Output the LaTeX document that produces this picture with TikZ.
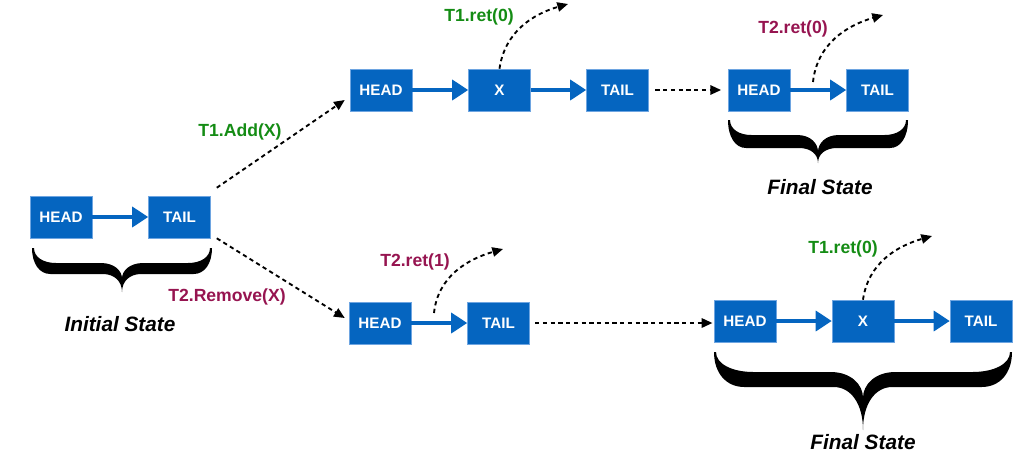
\documentclass[tikz,border=0pt]{standalone}
\usepackage{fontspec}
\setmainfont{Liberation Sans}
\usetikzlibrary{arrows.meta}
\definecolor{boxblue}{RGB}{5,101,192}
\definecolor{boxedge}{RGB}{110,165,225}
\definecolor{tgreen}{RGB}{20,140,20}
\definecolor{tmaroon}{RGB}{150,20,80}
% filled curly brace pointing down:
% #1 left x, #2 right x, #3 top y, #4 band depth, #5 band thickness, #6 tip depth
\newcommand{\fancybrace}[6]{%
  \pgfmathsetmacro\bxm{(#1+#2)/2}%
  \pgfmathsetmacro\byb{#3+#4}%
  \pgfmathsetmacro\byt{#3+#4-#5}%
  \pgfmathsetmacro\byT{#3+#6}%
  \pgfmathsetmacro\byc{\byb+0.25*(#6-#4)}%
  \pgfmathsetmacro\br{0.35*#6+3}%
  \pgfmathsetmacro\bs{0.3*#6+6}%
  \fill (#1,-#3)
    .. controls (#1,{-(#3+0.6*#4)}) and ({#1+0.4*\br},-\byb) .. ({#1+\br},-\byb)
    -- ({\bxm-\bs},-\byb)
    .. controls ({\bxm-0.4*\bs},-\byb) and (\bxm,{-(\byb+0.4*(\byT-\byb))}) .. (\bxm,-\byT)
    .. controls (\bxm,{-(\byb+0.4*(\byT-\byb))}) and ({\bxm+0.4*\bs},-\byb) .. ({\bxm+\bs},-\byb)
    -- ({#2-\br},-\byb)
    .. controls ({#2-0.4*\br},-\byb) and (#2,{-(#3+0.6*#4)}) .. (#2,-#3)
    -- ({#2-2},-#3)
    .. controls ({#2-2},{-(#3+0.6*(#4-#5))}) and ({#2-0.6*\br},-\byt) .. ({#2-1.3*\br},-\byt)
    -- ({\bxm+1.1*\bs},-\byt)
    .. controls ({\bxm+0.4*\bs},-\byt) and (\bxm,{-(\byt+0.5*(\byc-\byt))}) .. (\bxm,-\byc)
    .. controls (\bxm,{-(\byt+0.5*(\byc-\byt))}) and ({\bxm-0.4*\bs},-\byt) .. ({\bxm-1.1*\bs},-\byt)
    -- ({#1+1.3*\br},-\byt)
    .. controls ({#1+0.6*\br},-\byt) and ({#1+2},{-(#3+0.6*(#4-#5))}) .. ({#1+2},-#3)
    -- cycle;}

\begin{document}
\begin{tikzpicture}[x=0.75pt,y=0.75pt,
   box/.style={draw=boxedge,fill=boxblue,text=white,minimum width=46.5pt,minimum height=31.5pt,
      inner sep=0pt,font=\fontsize{11.4}{13}\selectfont\bfseries},
   link/.style={boxblue,line width=2.6pt,-{Triangle[length=12pt,width=15pt]}},
   dasharrow/.style={black,line width=1.4pt,dash pattern=on 3.2pt off 2.6pt,-{Triangle[length=8pt,width=7pt]}},
   oplabel/.style={font=\fontsize{13.2}{15}\selectfont\bfseries},
   statelabel/.style={font=\fontsize{15.6}{18}\selectfont\bfseries\itshape}]
\useasboundingbox (0,0) rectangle (1024,-469);
% initial state
\node[box] (h0) at (61,-217) {HEAD};
\node[box] (t0) at (179.5,-217) {TAIL};
\draw[link] (h0) -- (t0);
\fancybrace{32}{212}{248}{26}{11}{44}
\node[statelabel] (s0) at (120,-324) {Initial State};

% T1 adds X first
\node[box] (h1) at (381,-90) {HEAD};
\node[box] (x1) at (499.5,-90) {X};
\node[box] (t1) at (617.5,-90) {TAIL};
\draw[link] (h1) -- (x1);
\draw[link] (x1) -- (t1);
\node[oplabel,tgreen] (a1) at (479,-17) {T1.ret(0)};
\coordinate (a1e) at (568,-4);
\draw[dasharrow] (x1.north) to[out=82,in=196] (a1e);

% then T2 removes X
\node[box] (h2) at (759,-90) {HEAD};
\node[box] (t2) at (877.5,-90) {TAIL};
\draw[link] (h2) -- (t2);
\coordinate (r2) at (813,-82);
\coordinate (r2e) at (883,-15);
\node[oplabel,tmaroon] (a2) at (793,-29) {T2.ret(0)};
\draw[dasharrow] (r2) to[out=84,in=196] (r2e);
\fancybrace{728}{908}{120}{28}{13}{43}
\node[statelabel] (s1) at (820,-187) {Final State};

% T2 removes X first
\node[box] (h3) at (380,-323) {HEAD};
\node[box] (t3) at (498.5,-323) {TAIL};
\draw[link] (h3) -- (t3);
\coordinate (r3) at (434,-313);
\coordinate (r3e) at (503,-249);
\node[oplabel,tmaroon] (a3) at (415,-262) {T2.ret(1)};
\draw[dasharrow] (r3) to[out=84,in=196] (r3e);

% then T1 adds X
\node[box] (h4) at (745,-321) {HEAD};
\node[box] (x4) at (863,-321) {X};
\node[box] (t4) at (981,-321) {TAIL};
\draw[link] (h4) -- (x4);
\draw[link] (x4) -- (t4);
\node[oplabel,tgreen] (a4) at (843,-249) {T1.ret(0)};
\coordinate (a4e) at (932,-236);
\draw[dasharrow] (x4.north) to[out=82,in=196] (a4e);
\fancybrace{714}{1012}{352}{35}{15}{78}
\node[statelabel] (s2) at (863,-442) {Final State};

% transitions
\draw[dasharrow] ([shift={(6,8)}]t0.north east) -- ([shift={(-5,-10)}]h1.west);
\node[oplabel,tgreen] (op1) at (240,-132) {T1.Add(X)};
\draw[dasharrow] ([shift={(6,0)}]t0.south east) -- ([shift={(-4,5)}]h3.west);
\node[oplabel,tmaroon] (op2) at (227,-297) {T2.Remove(X)};
\draw[dasharrow] ([xshift=5]t1.east) -- ([xshift=-5]h2.west);
\draw[dasharrow] ([xshift=4]t3.east) -- ([xshift=-1]t3.east -| h4.west);
\end{tikzpicture}
\end{document}
